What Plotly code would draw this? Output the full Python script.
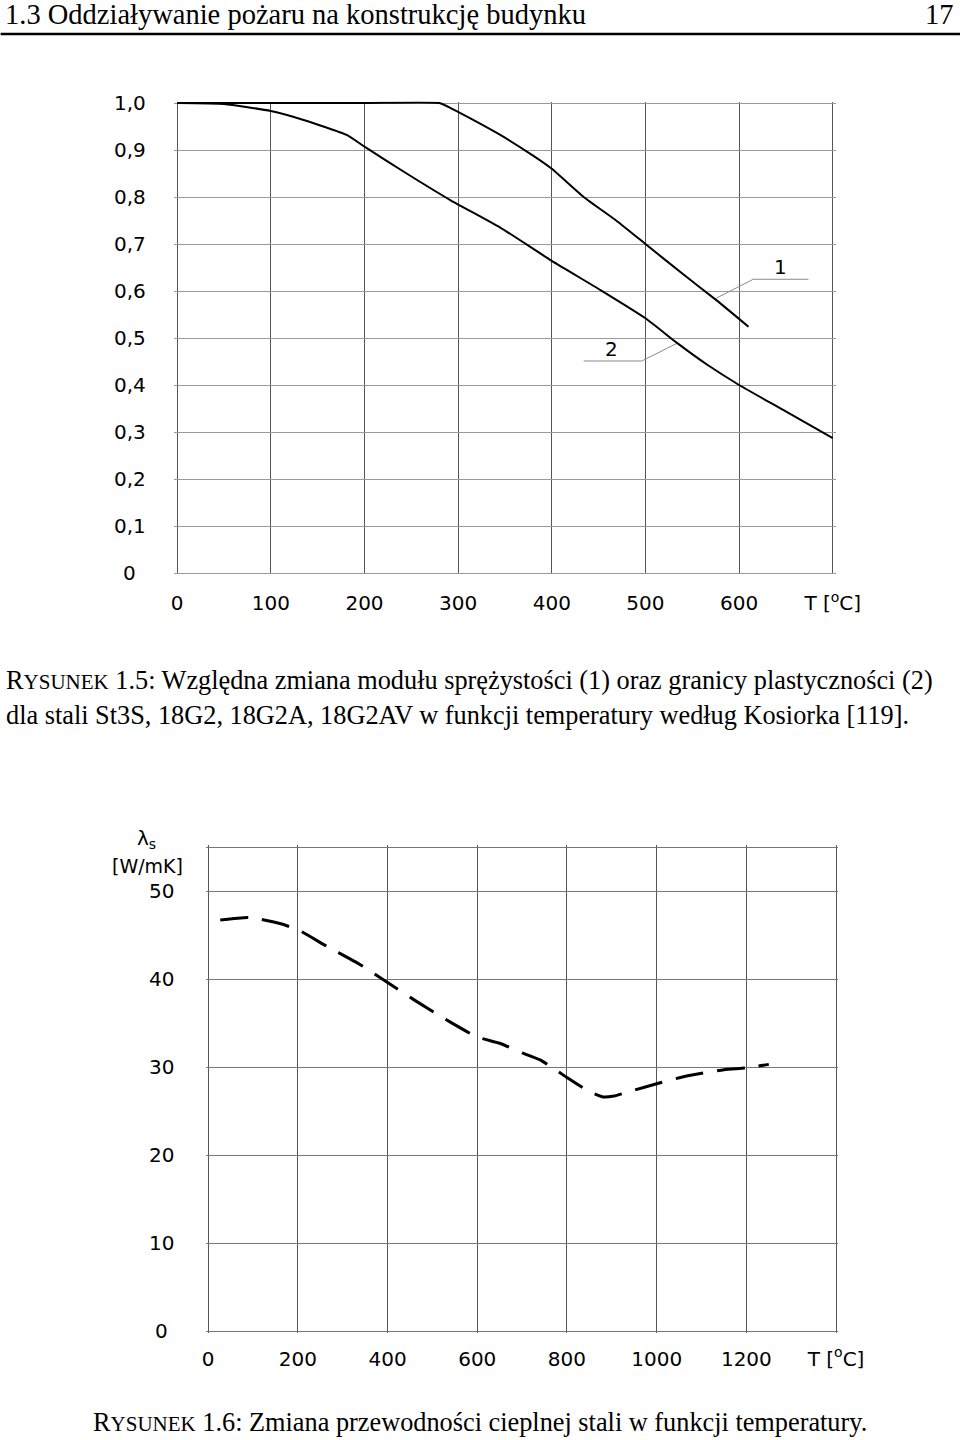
import plotly.graph_objects as go

# ---------------- data ----------------
# Figure 1.5: relative change of elastic modulus (1) and yield stress (2)
t_modulus = [0, 100, 200, 280, 292, 316, 345, 380, 400, 434, 470, 500, 540, 576, 610]
v_modulus = [1.0, 1.0, 1.0, 1.0, 0.989, 0.964, 0.932, 0.888, 0.860, 0.800, 0.748, 0.700, 0.636, 0.580, 0.524]
t_yield = [0, 50, 100, 135, 181, 200, 245, 292, 345, 400, 452, 500, 534, 566, 600, 647, 700]
v_yield = [1.0, 0.998, 0.983, 0.964, 0.932, 0.907, 0.850, 0.793, 0.735, 0.664, 0.602, 0.542, 0.489, 0.443, 0.400, 0.347, 0.287]

x1_ticks = [0, 100, 200, 300, 400, 500, 600, 700]
x1_labels = ["0", "100", "200", "300", "400", "500", "600", "T [<sup>o</sup>C]"]
y1_ticks = [0, 0.1, 0.2, 0.3, 0.4, 0.5, 0.6, 0.7, 0.8, 0.9, 1.0]
y1_labels = ["0", "0,1", "0,2", "0,3", "0,4", "0,5", "0,6", "0,7", "0,8", "0,9", "1,0"]

# leader lines for curve labels
lead1_t = [674, 615, 575]
lead1_v = [0.625, 0.625, 0.584]
lead2_t = [434, 496, 534]
lead2_v = [0.451, 0.451, 0.489]
label1_pos = (644, 0.652)
label2_pos = (464, 0.476)

# Figure 1.6: thermal conductivity of steel
t_lambda = [27, 90, 160, 200, 265, 340, 400, 460, 540, 600, 650, 700, 740, 780, 800,
            850, 880, 905, 945, 1000, 1060, 1150, 1200, 1250]
v_lambda = [46.7, 47.0, 46.3, 45.6, 43.7, 41.6, 39.6, 37.6, 35.1, 33.4, 32.7, 31.6, 30.8, 29.5, 28.8,
            27.2, 26.6, 26.7, 27.3, 28.1, 28.9, 29.7, 29.9, 30.3]

x2_ticks = [0, 200, 400, 600, 800, 1000, 1200, 1400]
x2_labels = ["0", "200", "400", "600", "800", "1000", "1200", "T [<sup>o</sup>C]"]
y2_grid = [0, 10, 20, 30, 40, 50, 55]
y2_ticks = [0, 10, 20, 30, 40, 50]
y2_labels = ["0", "10", "20", "30", "40", "50"]

# ---------------- layout helpers ----------------
W, H = 960, 1440
SANS = "DejaVu Sans"
SERIF = "Liberation Serif"

# horizontal mapping of paper coords onto the photographed page
X0, XW = 3.4, 930.6


def px(x):
    return (x - X0) / XW


def py(y):
    return 1 - y / H


# chart 1 pixel frame
c1_l, c1_r, c1_t, c1_b = 176.7, 832.7, 103.0, 573.0
c1_xr = [-3, 703]
c1_yr = [-0.003, 1.003]
k1x = (c1_r - c1_l) / 700
k1y = (c1_b - c1_t) / 1.0
dom1x = [px(c1_l + c1_xr[0] * k1x), px(c1_r + (c1_xr[1] - 700) * k1x)]
dom1y = [py(c1_b - c1_yr[0] * k1y), py(c1_t - (c1_yr[1] - 1.0) * k1y)]

# chart 2 pixel frame
c2_l, c2_r, c2_t, c2_b = 207.7, 836.0, 847.0, 1331.0
c2_xr = [-5, 1405]
c2_yr = [-0.2, 55.2]
k2x = (c2_r - c2_l) / 1400
k2y = (c2_b - c2_t) / 55
dom2x = [px(c2_l + c2_xr[0] * k2x), px(c2_r + (c2_xr[1] - 1400) * k2x)]
dom2y = [py(c2_b - c2_yr[0] * k2y), py(c2_t - (c2_yr[1] - 55) * k2y)]

fig = go.Figure()

# chart 1 traces
fig.add_trace(go.Scatter(x=lead1_t, y=lead1_v, mode="lines",
                         line=dict(color="#8a8a8a", width=1), xaxis="x", yaxis="y", hoverinfo="skip"))
fig.add_trace(go.Scatter(x=lead2_t, y=lead2_v, mode="lines",
                         line=dict(color="#8a8a8a", width=1), xaxis="x", yaxis="y", hoverinfo="skip"))
fig.add_trace(go.Scatter(x=t_modulus, y=v_modulus, mode="lines",
                         line=dict(color="black", width=2, shape="spline", smoothing=0.5),
                         xaxis="x", yaxis="y", name="1"))
fig.add_trace(go.Scatter(x=t_yield, y=v_yield, mode="lines",
                         line=dict(color="black", width=2, shape="spline", smoothing=0.5),
                         xaxis="x", yaxis="y", name="2"))

# chart 2 trace
fig.add_trace(go.Scatter(x=t_lambda, y=v_lambda, mode="lines",
                         line=dict(color="black", width=3, dash="28px,14px", shape="spline", smoothing=0.5),
                         xaxis="x2", yaxis="y2", name="λs"))

grid_v = "#555555"
grid_h = "#999999"

fig.update_layout(
    width=W, height=H,
    margin=dict(l=0, r=0, t=0, b=0),
    paper_bgcolor="white", plot_bgcolor="white",
    showlegend=False,
    xaxis=dict(domain=dom1x, range=c1_xr, tickvals=x1_ticks, ticktext=x1_labels,
               showgrid=True, gridcolor=grid_v, gridwidth=1.2, zeroline=False, showline=False,
               ticks="", tickfont=dict(family=SANS, size=20, color="black"),
               ticklabelstandoff=15, anchor="y", fixedrange=True),
    yaxis=dict(domain=dom1y, range=c1_yr, tickvals=y1_ticks, showticklabels=False,
               showgrid=True, gridcolor=grid_h, gridwidth=1.2, zeroline=False, showline=False,
               ticks="", anchor="x", fixedrange=True),
    xaxis2=dict(domain=dom2x, range=c2_xr, tickvals=x2_ticks, ticktext=x2_labels,
                showgrid=True, gridcolor=grid_v, gridwidth=1.2, zeroline=False, showline=False,
                ticks="", tickfont=dict(family=SANS, size=20, color="black"),
                ticklabelstandoff=12, anchor="y2", fixedrange=True),
    yaxis2=dict(domain=dom2y, range=c2_yr, tickvals=y2_grid, showticklabels=False,
                showgrid=True, gridcolor="#777777", gridwidth=1.2, zeroline=False, showline=False,
                ticks="", anchor="x2", fixedrange=True),
)

ann = []
for v, t in zip(y1_ticks, y1_labels):
    ann.append(dict(x=px(129), xref="paper", y=v, yref="y", text=t, showarrow=False,
                    xanchor="center", yanchor="middle",
                    font=dict(family=SANS, size=20, color="black")))
for v, t in zip(y2_ticks, y2_labels):
    ann.append(dict(x=px(161), xref="paper", y=v, yref="y2", text=t, showarrow=False,
                    xanchor="center", yanchor="middle",
                    font=dict(family=SANS, size=20, color="black")))
ann.append(dict(x=px(146), xref="paper", y=py(839), yref="paper", text="λ<sub>s</sub>",
                showarrow=False, xanchor="center", yanchor="middle",
                font=dict(family=SANS, size=20, color="black")))
ann.append(dict(x=px(147), xref="paper", y=py(866), yref="paper", text="[W/mK]",
                showarrow=False, xanchor="center", yanchor="middle",
                font=dict(family=SANS, size=19, color="black")))
ann.append(dict(x=label1_pos[0], xref="x", y=label1_pos[1], yref="y", text="1", showarrow=False,
                xanchor="center", yanchor="middle", font=dict(family=SANS, size=20, color="black")))
ann.append(dict(x=label2_pos[0], xref="x", y=label2_pos[1], yref="y", text="2", showarrow=False,
                xanchor="center", yanchor="middle", font=dict(family=SANS, size=20, color="black")))

ann.append(dict(x=px(2), xref="paper", y=py(15), yref="paper",
                text="1.3 Oddziaływanie pożaru na konstrukcję budynku", showarrow=False,
                xanchor="left", yanchor="middle", font=dict(family=SERIF, size=28.5, color="black")))
ann.append(dict(x=px(956), xref="paper", y=py(15), yref="paper", text="17", showarrow=False,
                xanchor="right", yanchor="middle", font=dict(family=SERIF, size=28.5, color="black")))

sc = "<span style='font-size:21px'>YSUNEK</span>"
ann.append(dict(x=px(3), xref="paper", y=py(680), yref="paper",
                text="R" + sc + " 1.5: Względna zmiana modułu sprężystości (1) oraz granicy plastyczności (2)",
                showarrow=False, xanchor="left", yanchor="middle",
                font=dict(family=SERIF, size=26.3, color="black")))
ann.append(dict(x=px(3), xref="paper", y=py(715), yref="paper",
                text="dla stali St3S, 18G2, 18G2A, 18G2AV w funkcji temperatury według Kosiorka [119].",
                showarrow=False, xanchor="left", yanchor="middle",
                font=dict(family=SERIF, size=26.3, color="black")))
ann.append(dict(x=px(480), xref="paper", y=py(1422), yref="paper",
                text="R" + sc + " 1.6: Zmiana przewodności cieplnej stali w funkcji temperatury.",
                showarrow=False, xanchor="center", yanchor="middle",
                font=dict(family=SERIF, size=26.3, color="black")))

fig.update_layout(annotations=ann)

# header rule across the page
fig.add_shape(type="line", xref="paper", yref="paper", x0=px(0), x1=px(960), y0=py(34), y1=py(34),
              line=dict(color="black", width=2.5))

fig.write_html("out.html")
